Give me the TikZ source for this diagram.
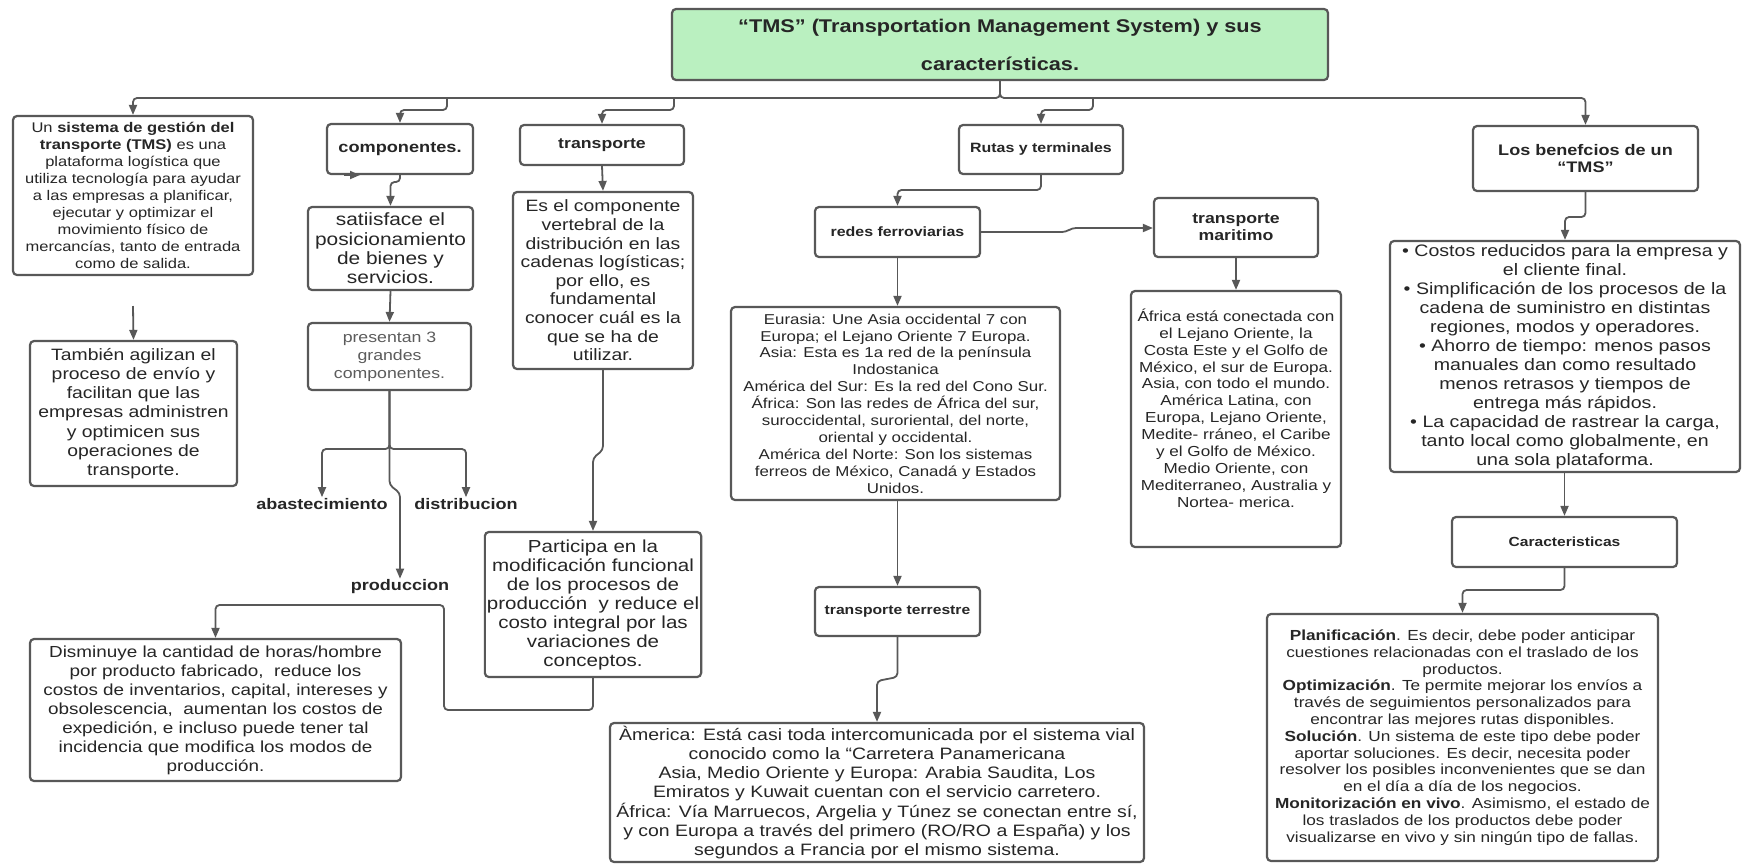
\documentclass[tikz,border=0pt]{standalone}
\usepackage{fontspec}
\setmainfont{Liberation Sans}[FakeStretch=1.18]
\usetikzlibrary{arrows.meta}
\definecolor{ink}{RGB}{38,38,38}
\definecolor{edge}{RGB}{88,88,88}
\definecolor{mint}{RGB}{186,240,192}
\newcommand\fs[2]{\fontsize{#1}{#2}\selectfont}
\tikzset{
  box/.style={draw=edge, line width=2.2pt, rounded corners=4pt, fill=white,
    align=center, text=ink, inner sep=2pt},
  conn/.style={draw=edge, line width=1.8pt, rounded corners=4pt},
  arr/.style={conn, -{Triangle[length=10pt,width=8pt]}},
  lbl/.style={text=ink, font=\fs{15.3}{17}\bfseries, inner sep=1pt},
}
\begin{document}
\begin{tikzpicture}[x=1pt, y=-1pt]
\useasboundingbox[fill=white] (0,0) rectangle (1742,863);

% ---------- title ----------
\node[box, fill=mint, minimum width=656pt, minimum height=71pt, font=\fs{18.4}{38}\bfseries]
  (title) at (1000,44.5) {“TMS” (Transportation Management System) y sus\\características.};

% ---------- first level ----------
\node[box, minimum width=240pt, minimum height=159pt, font=\fs{14}{17}]
  (sgt) at (133,195.5) {Un \textbf{sistema de gestión del}\\\textbf{transporte (TMS)} es una\\plataforma logística que\\utiliza tecnología para ayudar\\a las empresas a planificar,\\ejecutar y optimizar el\\movimiento físico de\\mercancías, tanto de entrada\\como de salida.};
\node[box, minimum width=146pt, minimum height=50pt, font=\fs{15.4}{17}\bfseries]
  (comp) at (400,149) {componentes.};
\node[box, minimum width=164pt, minimum height=40pt, font=\fs{15}{17}\bfseries]
  (transp) at (602,145) {transporte};
\node[box, minimum width=164pt, minimum height=49pt, font=\fs{13.5}{16}\bfseries]
  (rutas) at (1041,149.5) {Rutas y terminales};
\node[box, minimum width=225pt, minimum height=65pt, font=\fs{15.3}{17.3}\bfseries]
  (benef) at (1585.5,158.5) {Los benefcios de un\\“TMS”};

% ---------- left column ----------
\coordinate (tstart) at (133,306);
\node[box, minimum width=207pt, minimum height=145pt, font=\fs{16.4}{19.2}]
  (tamb) at (133.5,413.5) {También agilizan el\\proceso de envío y\\facilitan que las\\empresas administren\\y optimicen sus\\operaciones de\\transporte.};

% ---------- componentes column ----------
\coordinate (stubA) at (344,175);
\coordinate (stubB) at (360,175);
\node[box, minimum width=165pt, minimum height=83pt, font=\fs{17.7}{19.4}]
  (satisf) at (390.5,248.5) {satiisface el\\posicionamiento\\de bienes y\\servicios.};
\node[box, minimum width=163pt, minimum height=67pt, font=\fs{15}{18}, text=ink!75]
  (present) at (389.5,356.5) {presentan 3\\grandes\\componentes.};
\node[lbl] (abast) at (322,504) {abastecimiento};
\node[lbl] (distrib) at (466,504) {distribucion};
\node[lbl] (produc) at (400,587) {produccion};
\node[box, minimum width=371pt, minimum height=142pt, font=\fs{16}{19}]
  (dismin) at (215.5,710) {Disminuye la cantidad de horas/hombre\\por producto fabricado,\ \ reduce los\\costos de inventarios, capital, intereses y\\obsolescencia,\ \ aumentan los costos de\\expedición, e incluso puede tener tal\\incidencia que modifica los modos de\\producción.};

% ---------- transporte column ----------
\node[box, minimum width=180pt, minimum height=177pt, font=\fs{16.4}{18.6}]
  (esel) at (603,280.5) {Es el componente\\vertebral de la\\distribución en las\\cadenas logísticas;\\por ello, es\\fundamental\\conocer cuál es la\\que se ha de\\utilizar.};
\node[box, minimum width=214pt, minimum height=145pt, font=\fs{17.4}{19}]
  (partic) at (593,604.5) {Participa en la\\modificación funcional\\de los procesos de\\producción\ \ y reduce el\\costo integral por las\\variaciones de\\conceptos.};

% ---------- rutas column ----------
\node[box, minimum width=165pt, minimum height=50pt, font=\fs{13.5}{16}\bfseries]
  (redes) at (897.5,232) {redes ferroviarias};
\node[box, minimum width=164pt, minimum height=59pt, font=\fs{15}{17}\bfseries]
  (marit) at (1236,227.5) {transporte\\maritimo};
\node[box, minimum width=329pt, minimum height=193pt, font=\fs{14.3}{16.9}]
  (eura) at (895.5,403.5) {Eurasia: Une Asia occidental 7 con\\Europa; el Lejano Oriente 7 Europa.\\Asia: Esta es 1a red de la península\\Indostanica\\América del Sur: Es la red del Cono Sur.\\África: Son las redes de África del sur,\\suroccidental, suroriental, del norte,\\oriental y occidental.\\América del Norte: Son los sistemas\\ferreos de México, Canadá y Estados\\Unidos.};
\node[box, minimum width=210pt, minimum height=256pt, font=\fs{14.5}{16.9}, text depth=22pt]
  (afri) at (1236,419) {África está conectada con\\el Lejano Oriente, la\\Costa Este y el Golfo de\\México, el sur de Europa.\\Asia, con todo el mundo.\\América Latina, con\\Europa, Lejano Oriente,\\Medite- rráneo, el Caribe\\y el Golfo de México.\\Medio Oriente, con\\Mediterraneo, Australia y\\Nortea- merica.};
\node[box, minimum width=165pt, minimum height=49pt, font=\fs{13.3}{16}\bfseries]
  (terr) at (897.5,611.5) {transporte terrestre};
\node[box, minimum width=534pt, minimum height=139pt, font=\fs{16.5}{19.2}]
  (amer) at (877,792.5) {Àmerica: Está casi toda intercomunicada por el sistema vial\\conocido como la “Carretera Panamericana\\Asia, Medio Oriente y Europa: Arabia Saudita, Los\\Emiratos y Kuwait cuentan con el servicio carretero.\\África: Vía Marruecos, Argelia y Túnez se conectan entre sí,\\y con Europa a través del primero (RO/RO a España) y los\\segundos a Francia por el mismo sistema.};

% ---------- beneficios column ----------
\node[box, minimum width=350pt, minimum height=231pt, font=\fs{16.6}{19}]
  (lista) at (1565,356.5) {• Costos reducidos para la empresa y\\el cliente final.\\• Simplificación de los procesos de la\\cadena de suministro en distintas\\regiones, modos y operadores.\\• Ahorro de tiempo: menos pasos\\manuales dan como resultado\\menos retrasos y tiempos de\\entrega más rápidos.\\• La capacidad de rastrear la carga,\\tanto local como globalmente, en\\una sola plataforma.};
\node[box, minimum width=225pt, minimum height=50pt, font=\fs{13.2}{16}\bfseries]
  (caract) at (1564.5,542) {Caracteristicas};
\node[box, minimum width=391pt, minimum height=247pt, font=\fs{14.6}{16.8}]
  (plan) at (1462.5,737.5) {\textbf{Planificación}. Es decir, debe poder anticipar\\cuestiones relacionadas con el traslado de los\\productos.\\\textbf{Optimización}. Te permite mejorar los envíos a\\través de seguimientos personalizados para\\encontrar las mejores rutas disponibles.\\\textbf{Solución}. Un sistema de este tipo debe poder\\aportar soluciones. Es decir, necesita poder\\resolver los posibles inconvenientes que se dan\\en el día a día de los negocios.\\\textbf{Monitorización en vivo}. Asimismo, el estado de\\los traslados de los productos debe poder\\visualizarse en vivo y sin ningún tipo de fallas.};

% ---------- connectors from the title ----------
\draw[arr] (title.south) -- (1000,98) -- (133,98) -- (sgt.north);
\draw[arr] (title.south) -- (1000,98) -- (1585.5,98) -- (benef.north);
\draw[arr] (447,98) -- (447,110) -- (400,110) -- (comp.north);
\draw[arr] (674,98) -- (674,110) -- (602,110) -- (transp.north);
\draw[arr] (1093,98) -- (1093,110) -- (1041,110) -- (rutas.north);

% ---------- left column ----------
\draw[arr] (tstart) -- (tamb.north);

% ---------- componentes column ----------
\draw[arr] (stubA) -- (stubB);
\draw[arr] (comp.south) -- (400,182) -- (390.5,182) -- (satisf.north);
\draw[arr] (satisf.south) -- (present.north);
\draw[arr] (present.south) -- (389.5,449) -| (abast.north);
\draw[arr] (present.south) -- (389.5,449) -| (distrib.north);
\draw[arr] (present.south) -- (389.5,485) -- (400,493) -- (produc.north);

% ---------- transporte column ----------
\draw[arr] (transp.south) -- (esel.north);
\draw[arr] (esel.south) -- (603,450) -- (593,458) -- (partic.north);
\draw[arr] (partic.south) -- (593,710) -- (444,710) -- (444,605) -| (dismin.north);

% ---------- rutas column ----------
\draw[arr] (rutas.south) -- (1041,190) -- (897.5,190) -- (redes.north);
\draw[arr] (redes.east) -- (1066,232) -- (1072,228) -- (marit.west |- 0,228);
\draw[arr] (redes.south) -- (eura.north -| redes.south);
\draw[arr] (marit.south) -- (afri.north);
\draw[arr] (eura.south -| redes.south) -- (897.5,543) -- (897.5,550) -- (terr.north);
\draw[arr] (terr.south) -- (897.5,677) -- (877,681) -- (amer.north);

% ---------- beneficios column ----------
\draw[arr] (benef.south) -- (1585.5,217) -- (1565,217) -- (lista.north);
\draw[arr] (lista.south -| caract.north) -- (caract.north);
\draw[arr] (caract.south) -- (1564.5,590) -- (1462.5,590) -- (plan.north);
\end{tikzpicture}
\end{document}
